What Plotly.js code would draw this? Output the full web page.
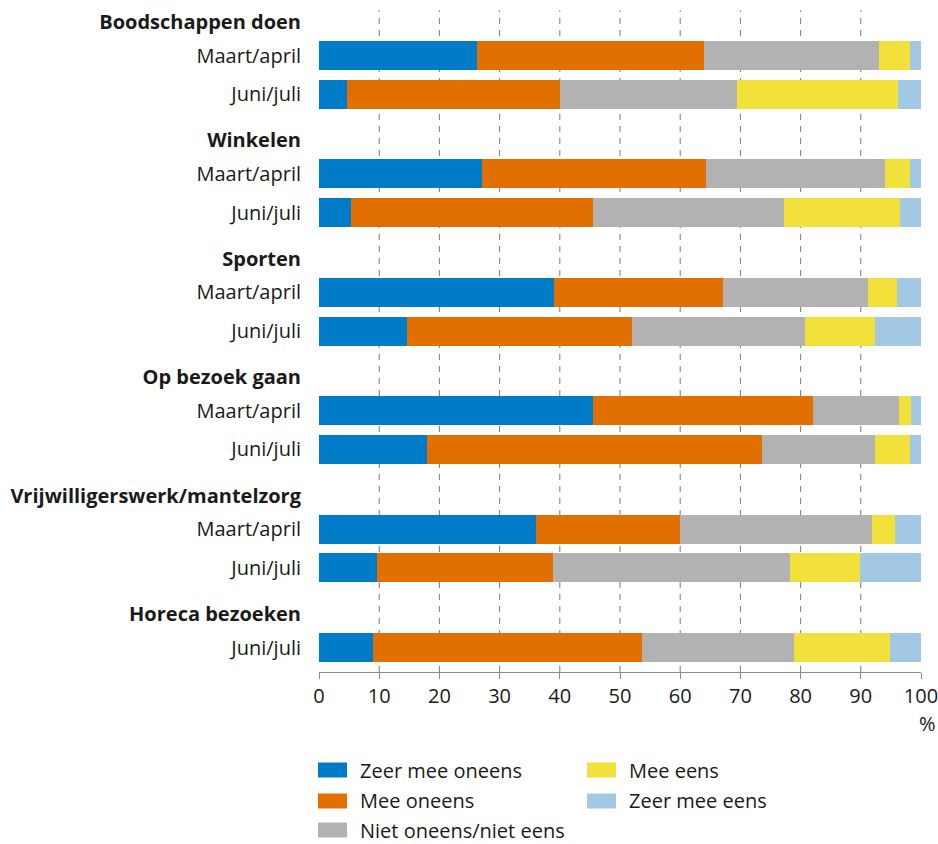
<!DOCTYPE html>
<html>
<head>
<meta charset="utf-8">
<script src="https://cdn.plot.ly/plotly-3.0.1.min.js"></script>
<style>
  html, body { margin: 0; padding: 0; background: #ffffff; }
  #chart { width: 938px; height: 844px; }
</style>
</head>
<body>
<div id="chart"></div>
<script>
// ---------- DATA ----------
var groups = ['Boodschappen doen', 'Winkelen', 'Sporten', 'Op bezoek gaan', 'Vrijwilligerswerk/mantelzorg', 'Horeca bezoeken'];
// each bar row: group index and period label
var rowGroup  = [0, 0, 1, 1, 2, 2, 3, 3, 4, 4, 5];
var rowPeriod = ['Maart/april', 'Juni/juli', 'Maart/april', 'Juni/juli', 'Maart/april', 'Juni/juli',
                 'Maart/april', 'Juni/juli', 'Maart/april', 'Juni/juli', 'Juni/juli'];

var seriesNames = ['Zeer mee oneens', 'Mee oneens', 'Niet oneens/niet eens', 'Mee eens', 'Zeer mee eens'];
var zeerMeeOneens = [26.2, 4.6, 27.1, 5.3, 39.1, 14.6, 45.5, 18.0, 36.1, 9.7, 9.0];
var meeOneens     = [37.8, 35.5, 37.2, 40.2, 28.0, 37.4, 36.6, 55.6, 23.8, 29.1, 44.7];
var nietOneens    = [29.0, 29.3, 29.7, 31.8, 24.1, 28.7, 14.3, 18.7, 32.0, 39.5, 25.2];
var meeEens       = [5.2, 26.8, 4.2, 19.2, 4.8, 11.6, 2.0, 5.9, 3.7, 11.6, 16.0];
var zeerMeeEens   = [1.8, 3.8, 1.8, 3.5, 4.0, 7.7, 1.6, 1.8, 4.4, 10.1, 5.1];

var xTicks = [0, 10, 20, 30, 40, 50, 60, 70, 80, 90, 100];
var gridVals = [10, 20, 30, 40, 50, 60, 70, 80, 90];
var unitLabel = '%';

// ---------- STYLE / LAYOUT ----------
var colors = ['#007bc7', '#e17000', '#b2b2b2', '#f2e03b', '#a2c8e4'];
var FONT = '"Open Sans", "Noto Sans", sans-serif';
var TXT = '#1a1a1a';

var W = 938, H = 844;
var L = 319, R = 921, T = 5, B = 672;   // plot area in pixels
var groupStep = 3;          // y units per group
var firstOffset = 0.85, secondOffset = 1.83;

// y positions of bar rows (computed from structure)
var seenInGroup = {};
var rowY = rowGroup.map(function (g) {
  var k = seenInGroup[g] || 0;
  seenInGroup[g] = k + 1;
  return g * groupStep + (k === 0 ? firstOffset : secondOffset);
});
var tickVals = [], tickText = [];
groups.forEach(function (g, i) {
  tickVals.push(i * groupStep); tickText.push('<b>' + g + '</b>');
});
rowY.forEach(function (y, i) { tickVals.push(y); tickText.push(rowPeriod[i]); });

var allSeries = [zeerMeeOneens, meeOneens, nietOneens, meeEens, zeerMeeEens];
var traces = allSeries.map(function (vals, i) {
  return {
    type: 'bar', orientation: 'h',
    x: vals, y: rowY,
    name: seriesNames[i],
    width: 0.735,
    marker: { color: colors[i], line: { width: 0 } },
    hoverinfo: 'x+name',
    showlegend: false
  };
});

function px2paperX(px) { return (px - L) / (R - L); }
function px2paperY(py) { return (B - py) / (B - T); }

var shapes = gridVals.map(function (v) {
  return {
    type: 'line', xref: 'x', yref: 'paper', x0: v, x1: v, y0: 0, y1: 0.992,
    layer: 'below', line: { color: '#7a7a7a', width: 1, dash: '6px,6px' }
  };
});

var annotations = [{
  text: unitLabel, xref: 'x', yref: 'paper', x: 100, y: px2paperY(723),
  xanchor: 'center', yanchor: 'middle', xshift: 6, showarrow: false,
  font: { family: FONT, size: 20, color: TXT }
}];

// manual two-column legend
var legCols = [318, 587], legTextX = [358, 627], legRows = [770, 801, 830];
seriesNames.forEach(function (n, i) {
  var col = i < 3 ? 0 : 1, row = i < 3 ? i : i - 3;
  var cy = legRows[row];
  shapes.push({
    type: 'rect', xref: 'paper', yref: 'paper',
    x0: px2paperX(legCols[col]), x1: px2paperX(legCols[col] + 29),
    y0: px2paperY(cy + 7.5), y1: px2paperY(cy - 7.5),
    fillcolor: colors[i], line: { width: 0 }
  });
  annotations.push({
    text: n, xref: 'paper', yref: 'paper',
    x: px2paperX(legTextX[col]), y: px2paperY(cy),
    xanchor: 'left', yanchor: 'middle', showarrow: false,
    font: { family: FONT, size: 20, color: TXT }
  });
});

var pxPerUnit = 39.47;
var yTop = -(22 - T) / pxPerUnit;
var yBottom = (B - 22) / pxPerUnit;

var layout = {
  width: W, height: H,
  margin: { l: L, r: W - R, t: T, b: H - B, pad: 0 },
  paper_bgcolor: '#ffffff', plot_bgcolor: '#ffffff',
  barmode: 'stack',
  bargap: 0,
  showlegend: false,
  font: { family: FONT, size: 20, color: TXT },
  xaxis: {
    range: [0, 100], tickvals: xTicks, ticktext: xTicks.map(String),
    showgrid: false, zeroline: false,
    showline: true, linecolor: '#8c8c8c', linewidth: 1,
    ticks: 'outside', ticklen: 6, tickcolor: '#8c8c8c', tickwidth: 1,
    tickfont: { family: FONT, size: 20, color: TXT },
    ticklabeloverflow: 'allow',
    fixedrange: true
  },
  yaxis: {
    range: [yBottom, yTop], tickvals: tickVals, ticktext: tickText,
    showgrid: false, zeroline: false, showline: false,
    ticks: '', ticklabelstandoff: 17,
    tickfont: { family: FONT, size: 20, color: TXT },
    fixedrange: true
  },
  shapes: shapes,
  annotations: annotations
};

Plotly.newPlot('chart', traces, layout, { displayModeBar: false, staticPlot: true });
</script>
</body>
</html>
